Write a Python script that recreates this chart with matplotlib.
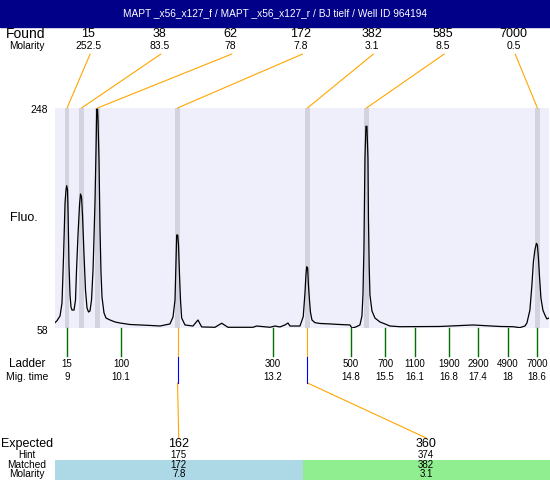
import matplotlib
matplotlib.use('Agg')
import matplotlib.pyplot as plt
from matplotlib.patches import Rectangle, ConnectionPatch
from matplotlib.lines import Line2D
from matplotlib.transforms import blended_transform_factory

plt.rcParams['font.family'] = ['Liberation Sans', 'DejaVu Sans']

title = 'MAPT _x56_x127_f / MAPT _x56_x127_r / BJ tielf / Well ID 964194'

# electropherogram trace (migration time, fluorescence)
trace_time = [8.754, 8.795, 8.857, 8.897, 8.928, 8.959, 8.979, 8.993, 9.010, 9.020,
              9.040, 9.061, 9.081, 9.102, 9.143, 9.173, 9.194, 9.224, 9.255, 9.275,
              9.296, 9.316, 9.347, 9.377, 9.408, 9.439, 9.469, 9.500, 9.531, 9.551,
              9.572, 9.592, 9.607, 9.623, 9.633, 9.653, 9.674, 9.694, 9.714, 9.755,
              9.796, 9.878, 9.980, 10.082, 10.286, 10.491, 10.695, 10.899, 11.103, 11.165,
              11.206, 11.226, 11.240, 11.261, 11.277, 11.298, 11.318, 11.342, 11.410, 11.573,
              11.675, 11.751, 12.023, 12.160, 12.288, 12.799, 12.874, 13.146, 13.248, 13.350,
              13.452, 13.514, 13.555, 13.759, 13.826, 13.861, 13.881, 13.896, 13.916, 13.932,
              13.953, 13.973, 14.004, 14.065, 14.167, 14.372, 14.576, 14.780, 14.821, 14.903,
              14.984, 15.025, 15.046, 15.066, 15.087, 15.107, 15.127, 15.148, 15.158, 15.174,
              15.189, 15.230, 15.291, 15.393, 15.495, 15.597, 15.801, 16.618, 17.293, 17.844,
              18.109, 18.253, 18.355, 18.396, 18.457, 18.498, 18.528, 18.559, 18.590, 18.610,
              18.631, 18.651, 18.682, 18.722, 18.763, 18.804, 18.845]
trace_fluo = [62.6, 64.3, 68.4, 79.6, 119.3, 166.0, 177.2, 180.9, 177.2, 159.9,
              112.4, 86.5, 76.1, 73.5, 73.5, 82.2, 108.1, 138.3, 164.3, 173.7,
              171.1, 155.5, 121.0, 90.8, 75.3, 71.8, 72.7, 82.2, 108.1, 136.6,
              168.5, 211.7, 247.1, 247.1, 237.6, 203.1, 142.6, 105.5, 84.8, 71.0,
              66.6, 64.9, 63.2, 62.3, 61.0, 60.6, 60.2, 59.7, 61.5, 67.5,
              82.2, 115.0, 138.3, 138.3, 129.7, 103.8, 82.2, 66.6, 60.6, 59.7,
              64.9, 58.9, 58.6, 62.1, 58.6, 58.6, 59.7, 58.6, 59.7, 58.9,
              60.6, 62.3, 59.7, 59.7, 67.8, 88.2, 103.8, 110.9, 109.8, 95.1,
              82.2, 71.8, 64.9, 62.6, 61.9, 61.5, 61.0, 60.6, 58.0, 58.9,
              60.6, 68.4, 86.5, 127.1, 204.8, 232.2, 232.2, 204.8, 153.0, 109.8,
              86.5, 72.7, 66.6, 63.2, 61.5, 59.7, 59.1, 59.3, 60.6, 59.3,
              59.1, 58.3, 59.7, 62.3, 73.5, 95.1, 115.0, 125.4, 131.1, 129.7,
              118.5, 103.8, 83.9, 73.5, 69.2, 65.8, 66.6]

# found peaks
peak_time = [9.0, 9.296, 9.623, 11.257, 13.912, 15.117, 18.610]
peak_size = ['15', '38', '62', '172', '382', '585', '7000']
peak_molarity = ['252.5', '83.5', '78', '7.8', '3.1', '8.5', '0.5']

# ladder
ladder_size = ['15', '100', '300', '500', '700', '1100', '1900', '2900', '4900', '7000']
ladder_time = [9, 10.1, 13.2, 14.8, 15.5, 16.1, 16.8, 17.4, 18, 18.6]

# expected fragments and the peaks they matched
expected = ['162', '360']
hint = ['175', '374']
matched = ['172', '382']
matched_molarity = ['7.8', '3.1']
matched_peak = [3, 4]
matched_color = ['#ADD8E6', '#90EE90']

orange = '#FFA500'
green = '#006E00'

fig = plt.figure(figsize=(5.5, 4.8), dpi=100)
fig.patch.set_facecolor('white')

### Title bar
fig.add_artist(Rectangle((0, 0.9444), 1, 0.0556, transform=fig.transFigure,
                         color='#000088', zorder=0))
fig.text(0.5, 0.972, title, color='white', fontsize=7.3, ha='center', va='center')

### Main electropherogram
ax = fig.add_axes([0.1, 0.3167, 0.898, 0.4583])
ax.set_facecolor('#EFEFFC')
ax.set_xlim(8.754, 18.845)
ax.set_ylim(58, 248)
ax.set_xticks([])
ax.set_yticks([])
for s in ax.spines.values():
    s.set_visible(False)

for t in peak_time:
    ax.axvspan(t - 0.05, t + 0.05, color='#D3D3E0', lw=0, zorder=1)
ax.plot(trace_time, trace_fluo, color='black', lw=0.9, zorder=3)

ytr = blended_transform_factory(ax.transAxes, ax.transData)
ax.text(-0.014, 246, '248', transform=ytr, ha='right', va='center', fontsize=7.5)
ax.text(-0.014, 55.5, '58', transform=ytr, ha='right', va='center', fontsize=7.5)
fig.text(0.044, 0.546, 'Fluo.', ha='center', va='center', fontsize=9)

### Found peaks row
fig.text(0.047, 0.929, 'Found', ha='center', va='center', fontsize=10)
fig.text(0.049, 0.904, 'Molarity', ha='center', va='center', fontsize=7.3)
for i, t in enumerate(peak_time):
    fx = (88.5 + i * 70.83) / 550
    fig.text(fx, 0.929, peak_size[i], ha='center', va='center', fontsize=9)
    fig.text(fx, 0.904, peak_molarity[i], ha='center', va='center', fontsize=7.5)
    con = ConnectionPatch(xyA=(fx + 0.003, 0.8875), coordsA=fig.transFigure,
                          xyB=(t, 248), coordsB=ax.transData, color=orange, lw=0.8)
    fig.add_artist(con)

### Ladder
btr = blended_transform_factory(ax.transData, fig.transFigure)
fig.text(0.049, 0.2417, 'Ladder', ha='center', va='center', fontsize=8.5)
fig.text(0.049, 0.2146, 'Mig. time', ha='center', va='center', fontsize=7.5)
for size, t in zip(ladder_size, ladder_time):
    fig.add_artist(Line2D([t, t], [0.3167, 0.2583], transform=btr, color=green, lw=1))
    fig.text(t, 0.2417, size, transform=btr, ha='center', va='center', fontsize=7)
    fig.text(t, 0.2146, f'{t:g}', transform=btr, ha='center', va='center', fontsize=7)

### Expected / matched table
fig.text(0.049, 0.076, 'Expected', ha='center', va='center', fontsize=9)
fig.text(0.049, 0.052, 'Hint', ha='center', va='center', fontsize=7)
fig.text(0.048, 0.031, 'Matched', ha='center', va='center', fontsize=7.3)
fig.text(0.049, 0.0125, 'Molarity', ha='center', va='center', fontsize=7.3)
cell_w = 0.9 / len(expected)
for j, i in enumerate(matched_peak):
    x0 = 0.1 + j * cell_w
    cx = x0 + cell_w / 2
    fig.add_artist(Rectangle((x0, 0), cell_w, 0.0417, transform=fig.transFigure,
                             color=matched_color[j], lw=0, zorder=0))
    fig.text(cx, 0.076, expected[j], ha='center', va='center', fontsize=9)
    fig.text(cx, 0.052, hint[j], ha='center', va='center', fontsize=7)
    fig.text(cx, 0.031, matched[j], ha='center', va='center', fontsize=7)
    fig.text(cx, 0.0125, matched_molarity[j], ha='center', va='center', fontsize=7)

    # connector from the peak down to its expected size
    t = peak_time[i]
    fig.add_artist(Line2D([t, t], [0.3167, 0.2563], transform=btr, color=orange, lw=0.8))
    fig.add_artist(Line2D([t, t], [0.2563, 0.2021], transform=btr, color='blue', lw=0.8))
    con = ConnectionPatch(xyA=(t, 0.2021), coordsA=btr,
                          xyB=(cx, 0.0875), coordsB=fig.transFigure, color=orange, lw=0.8)
    fig.add_artist(con)

fig.savefig('out.png', dpi=100)
